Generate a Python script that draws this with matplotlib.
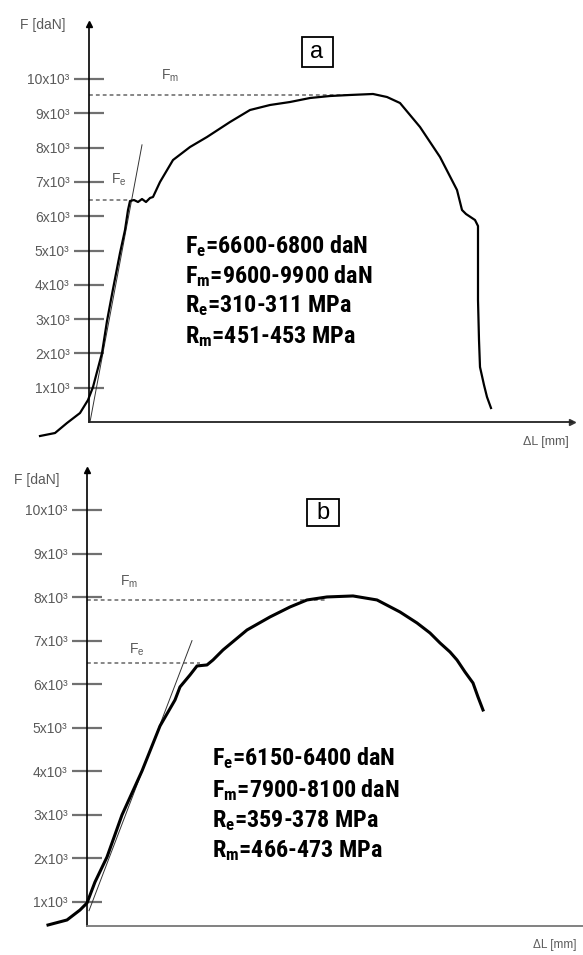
import matplotlib
matplotlib.use('Agg')
import matplotlib.pyplot as plt
from matplotlib import font_manager
from matplotlib.patches import Rectangle

# -- fonts: the result block uses a narrow bold face, look for one -- #
names = {f.name for f in font_manager.fontManager.ttflist}
condensed = [f for f in font_manager.fontManager.ttflist
             if f.stretch in ('condensed', 'semi-condensed') or 'Narrow' in f.name or 'Condensed' in f.name]
BOLD_STRETCH = 'normal'
if 'Liberation Sans Narrow' in names:
    BOLD_FAMILY = ['Liberation Sans Narrow', 'Liberation Sans']
    BOLD_SIZE = 18.5
elif any('Roboto Condensed' in f.name for f in condensed):
    BOLD_FAMILY = ['Roboto Condensed', 'Liberation Sans']
    BOLD_SIZE = 17.4
elif any(f.name == 'Roboto' and f.stretch != 'normal' for f in condensed):
    BOLD_FAMILY = ['Roboto', 'Liberation Sans']
    BOLD_STRETCH = 'condensed'
    BOLD_SIZE = 17.4
else:
    BOLD_FAMILY = ['Liberation Sans']
    BOLD_SIZE = 15.5

plt.rcParams['font.family'] = ['Liberation Sans', 'DejaVu Sans']
plt.rcParams['mathtext.default'] = 'regular'

# -- data (dL in mm, F in daN) -- #
dl_a = [-4.9, -3.4, -2.2, -0.9, -0.1, 0.4, 1.3, 1.8, 2.4, 3.1, 3.6, 3.9, 4.1, 4.5, 4.9, 5.3,
        5.7, 6.1, 6.4, 7.1, 8.4, 10.1, 11.8, 14.1, 16.1, 18.1, 20.1, 22.1, 24.1, 26.1, 28.4,
        29.8, 31.1, 33.1, 35.1, 36.8, 37.3, 37.7, 38.6, 38.9, 38.9, 39.0, 39.1, 39.5, 39.8, 40.2]
f_a = [-408, -321, -29, 262, 641, 1020, 2012, 2945, 3878, 4927, 5598, 6181, 6443, 6472, 6414,
       6501, 6414, 6531, 6560, 6997, 7638, 8017, 8309, 8746, 9096, 9242, 9329, 9446, 9504,
       9534, 9563, 9475, 9300, 8601, 7726, 6764, 6181, 6064, 5889, 5714, 3557, 2391, 1603,
       1079, 729, 408]
tangent_a_dl = [0.1, 5.3]
tangent_a_f = [0, 8080]
fe_a = 6470
fm_a = 9530
text_a = [r'$F_e$=6600-6800 daN', r'$F_m$=9600-9900 daN',
          r'$R_e$=310-311 MPa', r'$R_m$=451-453 MPa']

dl_b = [-3.9, -2.0, -0.7, 0.0, 0.8, 2.0, 3.5, 5.5, 7.3, 8.8, 9.3, 10.3, 11.0, 12.0, 12.6, 13.6,
        16.0, 18.3, 20.3, 22.0, 24.0, 26.6, 29.0, 31.3, 33.0, 34.3, 35.3, 36.3, 37.0, 37.8,
        38.6, 39.1, 39.6]
f_b = [472, 587, 816, 977, 1459, 2033, 2998, 4008, 5041, 5638, 5937, 6212, 6419, 6442, 6556,
       6786, 7245, 7544, 7773, 7934, 8003, 8026, 7934, 7658, 7406, 7176, 6947, 6740, 6556,
       6281, 6028, 5707, 5408]
tangent_b_dl = [0.2, 10.5]
tangent_b_f = [800, 7000]
fe_b = 6488
fm_b = 7934
text_b = [r'$F_e$=6150-6400 daN', r'$F_m$=7900-8100 daN',
          r'$R_e$=359-378 MPa', r'$R_m$=466-473 MPa']

y_ticks = [1000, 2000, 3000, 4000, 5000, 6000, 7000, 8000, 9000, 10000]
y_labels = ['%dx10\u00b3' % (v // 1000) for v in y_ticks]

GRAY = '#5a5a5a'

fig = plt.figure(figsize=(5.83, 9.55), dpi=100)
ax_a = fig.add_axes([0, 1 - 450 / 955, 1, 450 / 955])
ax_b = fig.add_axes([0, 0, 1, 500 / 955])


def draw_panel(ax, dl, f, tdl, tf, fe, fm, fe_end, fm_end, lines, cfg):
    ax.set_xlim(cfg['xlim'])
    ax.set_ylim(cfg['ylim'])
    ax.patch.set_alpha(0)
    for s in ['top', 'right']:
        ax.spines[s].set_visible(False)
    ax.spines['left'].set_position(('data', 0))
    ax.spines['left'].set_bounds(cfg['x_axis_f'], cfg['y_top'])
    ax.spines['left'].set_linewidth(1.2)
    ax.spines['bottom'].set_position(('data', cfg['x_axis_f']))
    ax.spines['bottom'].set_bounds(0, cfg['x_end'])
    ax.spines['bottom'].set_linewidth(1.3)
    ax.spines['bottom'].set_color(cfg['xcolor'])
    ax.set_xticks([])
    ax.set_yticks(y_ticks, y_labels)
    ax.tick_params(axis='y', direction='inout', length=22, width=1.6, color='#707070',
                   labelcolor=GRAY, labelsize=10, pad=3)

    # arrow heads
    ax.plot([0], [cfg['y_top']], marker='^', color='black', ms=5, clip_on=False)
    if cfg['x_arrow']:
        ax.plot([cfg['x_end']], [cfg['x_axis_f']], marker='>', color='#333333', ms=5, clip_on=False)

    # reference lines
    ax.plot([0, fm_end], [fm, fm], color='#666666', lw=1.1, ls=(0, (2.5, 2)))
    ax.plot([0, fe_end], [fe, fe], color='#666666', lw=1.1, ls=(0, (2.5, 2)))
    ax.plot(tdl, tf, color='#333333', lw=0.7)

    # curve
    ax.plot(dl, f, color='black', lw=cfg['lw'], solid_joinstyle='round', clip_on=False)

    # labels
    ax.text(cfg['fm_lbl'][0], cfg['fm_lbl'][1], r'$F_m$', color=GRAY, fontsize=10,
            ha='center', va='center')
    ax.text(cfg['fe_lbl'][0], cfg['fe_lbl'][1], r'$F_e$', color=GRAY, fontsize=10,
            ha='center', va='center')
    ax.text(cfg['f_lbl'][0], cfg['f_lbl'][1], 'F [daN]', color=GRAY, fontsize=10,
            ha='center', va='center')
    ax.text(cfg['dl_lbl'][0], cfg['dl_lbl'][1], '\u0394L [mm]', color=GRAY, fontsize=cfg['dl_size'],
            ha='left', va='center')

    # panel letter in a box
    bx, by, bw, bh = cfg['box']
    ax.add_patch(Rectangle((bx - bw / 2, by - bh / 2), bw, bh, fill=False, ec='black', lw=1.3))
    ax.text(bx, by, cfg['letter'], fontsize=17, ha='center', va='center')

    # results
    for txt, y in zip(lines, cfg['text_y']):
        ax.text(cfg['text_x'], y, txt, family=BOLD_FAMILY, fontweight='bold',
                fontstretch=BOLD_STRETCH, fontsize=BOLD_SIZE, ha='left', va='baseline',
                color='black')


draw_panel(ax_a, dl_a, f_a, tangent_a_dl, tangent_a_f, fe_a, fm_a, 4.1, 26, text_a,
           dict(xlim=(-8.9, 49.4), ylim=(-816, 12303), x_axis_f=0, y_top=11603,
                x_end=48.3, x_arrow=True, xcolor='#222222', lw=1.6,
                fm_lbl=(8.1, 10087), fe_lbl=(3.0, 7055), f_lbl=(-4.6, 11574),
                dl_lbl=(43.4, -583), dl_size=9, box=(22.8, 10787, 3.1, 875), letter='a',
                text_x=9.6, text_y=[4927, 4052, 3207, 2303]))

draw_panel(ax_b, dl_b, f_b, tangent_b_dl, tangent_b_f, fe_b, fm_b, 11.3, 24, text_b,
           dict(xlim=(-8.7, 49.6), ylim=(-217, 11262), x_axis_f=449, y_top=10919,
                x_end=49.6, x_arrow=False, xcolor='#777777', lw=2.2,
                fm_lbl=(4.2, 8347), fe_lbl=(5.0, 6786), f_lbl=(-5.0, 10689),
                dl_lbl=(44.6, 13), dl_size=8.5, box=(23.6, 9931, 3.2, 620), letter='b',
                text_x=12.5, text_y=[4146, 3411, 2722, 2033]))

fig.savefig('out.png', dpi=100)
